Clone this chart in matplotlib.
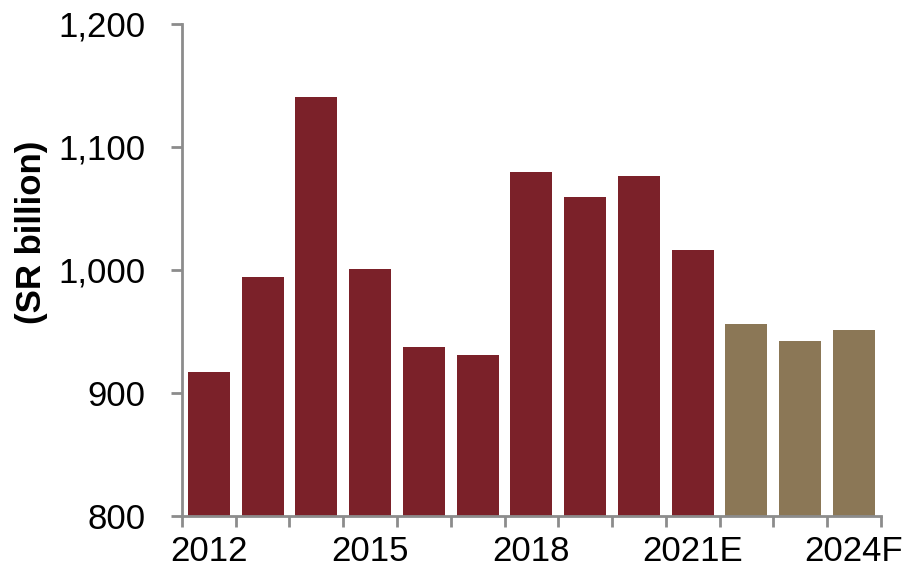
import numpy as np
import matplotlib.pyplot as plt

plt.rcParams['font.family'] = ['Liberation Sans', 'DejaVu Sans']

# Annual values, SR billion (2021 estimate, 2022-2024 forecast)
years = ['2012', '2013', '2014', '2015', '2016', '2017', '2018',
         '2019', '2020', '2021E', '2022F', '2023F', '2024F']
values = [917, 994, 1141, 1001, 937, 931, 1080, 1059, 1076, 1016, 956, 942, 951]
shown_labels = ['2012', '2015', '2018', '2021E', '2024F']

actual_color = '#7b2129'
forecast_color = '#8b7756'
colors = [forecast_color if y.endswith('F') else actual_color for y in years]

fig = plt.figure(figsize=(9.09, 5.81), dpi=100)
ax = fig.add_axes([0.2002, 0.112, 0.7688, 0.8467])

x = np.arange(len(years))
ax.bar(x, values, width=0.78, color=colors, bottom=0)

ax.set_ylim(800, 1200)
ax.set_xlim(-0.5, len(years) - 0.5)
ax.set_yticks(np.arange(800, 1201, 100))
ax.set_yticklabels([f'{v:,}' for v in range(800, 1201, 100)])

# tick marks sit between the bars, labels sit under selected bars
ax.set_xticks(np.arange(-0.5, len(years), 1.0))
ax.set_xticklabels([])
ax.set_xticks([years.index(l) for l in shown_labels], minor=True)
ax.set_xticklabels(shown_labels, minor=True)

grey = '#8c8c8c'
for side in ['top', 'right']:
    ax.spines[side].set_visible(False)
for side in ['left', 'bottom']:
    ax.spines[side].set_color(grey)
    ax.spines[side].set_linewidth(2)

ax.tick_params(axis='y', which='major', length=8, width=2, color=grey,
               labelsize=25, pad=18)
ax.tick_params(axis='x', which='major', length=8, width=2, color=grey)
ax.tick_params(axis='x', which='minor', length=0, labelsize=25, pad=14)

fig.text(32 / 909, 1 - 232 / 581, '(SR billion)', rotation=90,
         ha='center', va='center', fontsize=25, fontweight='bold')

fig.savefig('out.png', dpi=100)
